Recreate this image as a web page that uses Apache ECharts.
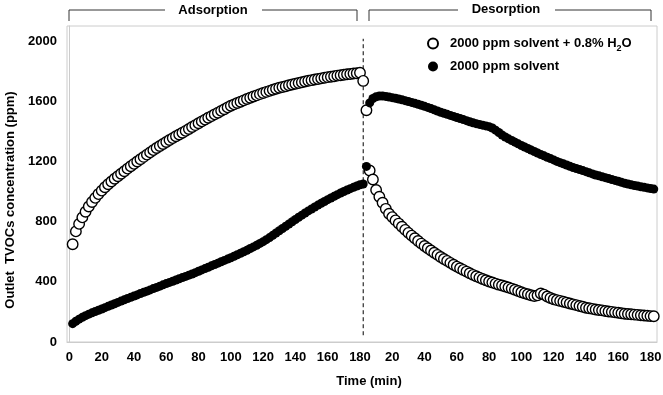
<!DOCTYPE html>
<html>
<head>
<meta charset="utf-8">
<script src="https://cdn.jsdelivr.net/npm/echarts@6/dist/echarts.min.js"></script>
<style>
html,body{margin:0;padding:0;background:#fff;}
#chart{width:663px;height:395px;}
</style>
</head>
<body>
<div id="chart"></div>
<script>
// ---- data ----
const waterName = '2000 ppm solvent + 0.8% H2O';
const dryName = '2000 ppm solvent';

// adsorption elapsed time (min)
const adsTime = [2,4,6,8,10,12,14,16,18,20,22,24,26,28,30,32,34,36,38,40,42,44,46,48,50,52,54,56,58,60,62,64,66,68,70,72,74,76,78,80,82,84,86,88,90,92,94,96,98,100,102,104,106,108,110,112,114,116,118,120,122,124,126,128,130,132,134,136,138,140,142,144,146,148,150,152,154,156,158,160,162,164,166,168,170,172,174,176,178,180,182,184];
const adsWater = [650,735,785,828,866,900,930,958,983,1006,1028,1048,1067,1085,1102,1118,1135,1152,1168,1184,1200,1215,1230,1245,1260,1275,1289,1303,1316,1329,1342,1355,1367,1379,1391,1403,1416,1429,1441,1454,1466,1478,1490,1501,1513,1524,1536,1547,1559,1570,1579,1588,1597,1606,1615,1623,1631,1639,1647,1655,1662,1669,1676,1683,1690,1695,1700,1706,1711,1716,1721,1726,1731,1736,1740,1744,1748,1752,1756,1760,1763,1766,1770,1773,1776,1779,1781,1784,1786,1789,1735,1540];
const adsDry = [122,138,152,164,175,185,194,203,211,219,228,237,246,254,263,272,280,289,297,305,313,322,330,338,346,355,363,371,380,388,396,404,412,420,428,436,444,452,461,470,479,488,497,506,515,524,533,542,551,560,570,580,590,600,610,621,632,643,655,667,680,694,709,724,739,754,769,784,799,814,829,843,857,871,884,897,910,922,934,946,957,968,979,990,1000,1010,1019,1028,1037,1045,1050,1167];

// desorption elapsed time (min), plotted after the adsorption period
const adsDuration = 180;
const desTime = [6,8,10,12,14,16,18,20,22,24,26,28,30,32,34,36,38,40,42,44,46,48,50,52,54,56,58,60,62,64,66,68,70,72,74,76,78,80,82,84,86,88,90,92,94,96,98,100,102,104,106,108,110,112,114,116,118,120,122,124,126,128,130,132,134,136,138,140,142,144,146,148,150,152,154,156,158,160,162,164,166,168,170,172,174,176,178,180,182];
const desWater = [1140,1080,1010,965,925,885,852,830,808,787,766,745,725,707,689,671,654,638,623,608,593,579,565,552,539,526,513,501,490,479,468,457,446,437,428,419,410,402,395,388,381,375,369,362,355,347,339,331,323,317,311,306,310,322,315,302,292,284,278,273,267,262,256,250,245,239,234,228,224,220,216,213,210,206,203,200,197,194,191,188,186,184,182,180,178,176,174,172,171];
const desDry = [1589,1618,1630,1635,1634,1632,1628,1624,1620,1615,1610,1604,1598,1592,1586,1580,1573,1566,1559,1551,1543,1535,1527,1520,1513,1506,1499,1492,1485,1478,1471,1464,1457,1451,1446,1441,1436,1431,1422,1408,1392,1376,1362,1350,1339,1328,1317,1306,1296,1286,1276,1266,1256,1246,1237,1228,1219,1210,1200,1192,1184,1176,1168,1160,1153,1146,1139,1132,1124,1117,1110,1104,1098,1092,1086,1080,1074,1068,1061,1055,1050,1045,1040,1036,1032,1028,1024,1020,1016];

// phase divider
const dividerTime = 182;
const dividerRange = [45, 2015];

// axis ticks
const xTicks = [0,20,40,60,80,100,120,140,160,180,200,220,240,260,280,300,320,340,360];
const yTicks = [0,400,800,1200,1600,2000];

// ---- chart ----
const FONT = '"Liberation Sans", Arial, sans-serif';
const pair = (ts, vs, off) => ts.map((t, i) => [off + t, vs[i]]);

const openStyle = {color:'#ffffff', borderColor:'#000000', borderWidth:1.4, opacity:1};
const fillStyle = {color:'#000000', borderColor:'#000000', borderWidth:0, opacity:1};

const chart = echarts.init(document.getElementById('chart'), null, {renderer:'canvas'});
chart.setOption({
  animation:false,
  backgroundColor:'#ffffff',
  textStyle:{fontFamily:FONT},
  grid:{left:67, right:6, top:26, bottom:53, show:true, borderColor:'#cccccc', borderWidth:1,
        containLabel:false, outerBoundsMode:'none'},
  legend:{
    orient:'vertical', left:422, top:32, itemWidth:10, itemHeight:10, itemGap:7,
    icon:'circle',
    data:[waterName, dryName],
    formatter:n => n === waterName ? '{m|2000 ppm solvent + 0.8% H}{s|2}{m|O}' : '{m|' + n + '}',
    textStyle:{
      fontFamily:FONT, fontSize:13, fontWeight:'bold', color:'#000', padding:[0,0,0,7],
      rich:{
        m:{fontFamily:FONT, fontSize:13, fontWeight:'bold', color:'#000', lineHeight:19, verticalAlign:'middle'},
        s:{fontFamily:FONT, fontSize:9, fontWeight:'bold', color:'#000', lineHeight:19, verticalAlign:'bottom'}
      }
    }
  },
  xAxis:{
    type:'value', min:-1.5, max:364,
    name:'Time (min)', nameLocation:'middle', nameGap:33,
    nameTextStyle:{fontFamily:FONT, fontSize:13, fontWeight:'bold', color:'#000', padding:[0,0,0,14]},
    axisLine:{show:true, lineStyle:{color:'#cccccc'}},
    axisTick:{show:false},
    splitLine:{show:false},
    axisLabel:{
      customValues:xTicks, margin:9,
      fontFamily:FONT, fontSize:13, fontWeight:'bold', color:'#000',
      formatter:v => String(v > adsDuration ? v - adsDuration : v)
    }
  },
  yAxis:{
    type:'value', min:0, max:2100, interval:400,
    name:'Outlet  TVOCs concentration (ppm)', nameLocation:'middle', nameGap:50,
    nameTextStyle:{fontFamily:FONT, fontSize:13, fontWeight:'bold', color:'#000', padding:[0,32,0,0]},
    axisLine:{show:true, lineStyle:{color:'#cccccc'}},
    axisTick:{show:false},
    splitLine:{show:false},
    axisLabel:{customValues:yTicks, margin:10, fontFamily:FONT, fontSize:13, fontWeight:'bold', color:'#000',
      formatter:v => String(v)}
  },
  series:[
    {name:'divider', type:'line', data:[[dividerTime, dividerRange[0]],[dividerTime, dividerRange[1]]],
     symbol:'none', lineStyle:{color:'#000', width:1, type:[4,3]}, silent:true, z:1},
    {name:waterName, type:'scatter', data:pair(adsTime, adsWater, 0), symbol:'circle', symbolSize:10.5, itemStyle:openStyle, z:2},
    {name:waterName, type:'scatter', data:pair(desTime, desWater, adsDuration), symbol:'circle', symbolSize:10.5, itemStyle:openStyle, z:2},
    {name:dryName, type:'scatter', data:pair(adsTime, adsDry, 0), symbol:'circle', symbolSize:9, itemStyle:fillStyle, z:3},
    {name:dryName, type:'scatter', data:pair(desTime, desDry, adsDuration), symbol:'circle', symbolSize:9, itemStyle:fillStyle, z:3}
  ],
  graphic:[
    {type:'polyline', shape:{points:[[69,21],[69,10],[165,10]]}, style:{stroke:'#333', lineWidth:1, fill:null}},
    {type:'polyline', shape:{points:[[262,10],[357,10],[357,21]]}, style:{stroke:'#333', lineWidth:1, fill:null}},
    {type:'text', x:213, y:10, style:{text:'Adsorption', fontFamily:FONT, fontSize:13, fontWeight:'bold', fill:'#000', align:'center', verticalAlign:'middle'}},
    {type:'polyline', shape:{points:[[369,21],[369,10],[458,10]]}, style:{stroke:'#333', lineWidth:1, fill:null}},
    {type:'polyline', shape:{points:[[555,10],[651,10],[651,21]]}, style:{stroke:'#333', lineWidth:1, fill:null}},
    {type:'text', x:506, y:9, style:{text:'Desorption', fontFamily:FONT, fontSize:13, fontWeight:'bold', fill:'#000', align:'center', verticalAlign:'middle'}}
  ]
});
</script>
</body>
</html>
